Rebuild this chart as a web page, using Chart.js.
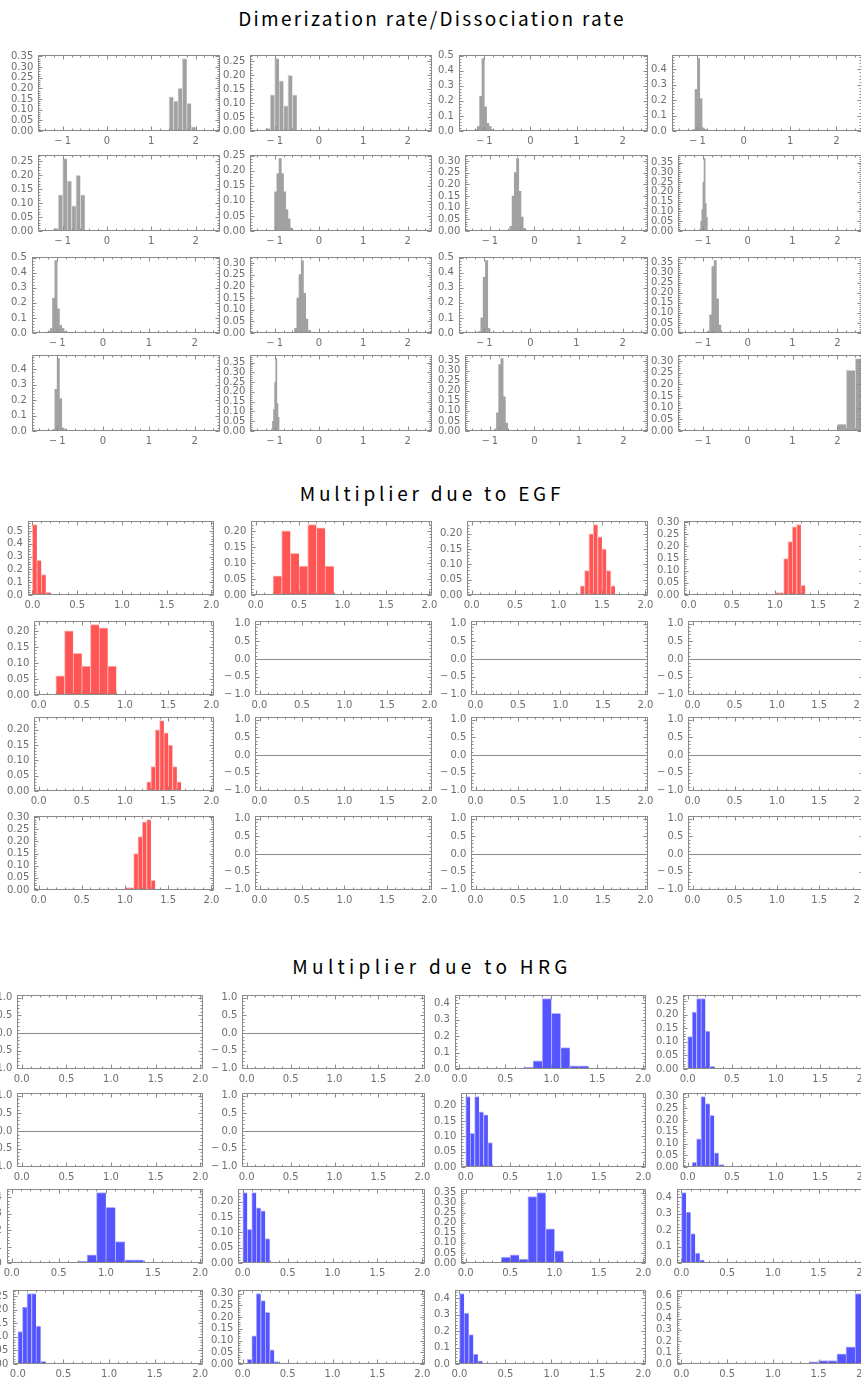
<!DOCTYPE html>
<html>
<head>
<meta charset="utf-8">
<script src="https://cdn.jsdelivr.net/npm/chart.js@4.4.1/dist/chart.umd.min.js"></script>
<style>
  body { margin: 0; background: #fff; }
  #page { position: relative; width: 861px; height: 1380px; overflow: hidden; background: #fff; }
  .title { position: absolute; left: 0; width: 864px; text-align: center; font-family: "Noto Sans CJK JP", "DejaVu Sans", sans-serif; font-size: 19px; color: #000; line-height: 24px; }
  canvas { position: absolute; }
</style>
</head>
<body>
<div id="page">
  <div class="title" style="top:6px; letter-spacing:2.3px">Dimerization rate/Dissociation rate</div>
  <div class="title" style="top:481px; letter-spacing:3.8px">Multiplier due to EGF</div>
  <div class="title" style="top:954px; letter-spacing:4.3px">Multiplier due to HRG</div>
</div>
<script>
// Histograms: bin centres (X) and fractions (Y)
// Dimerization rate / Dissociation rate
const dim11X = [1.45, 1.55, 1.65, 1.75, 1.85, 1.95];
const dim11Y = [0.16, 0.14, 0.20, 0.34, 0.13, 0.02];
const dim12X = [-1.15, -1.05, -0.95, -0.85, -0.75, -0.65, -0.55];
const dim12Y = [0.01, 0.13, 0.26, 0.18, 0.09, 0.20, 0.13];
const dim13X = [-1.175, -1.125, -1.075, -1.025, -0.975, -0.925, -0.875, -0.825];
const dim13Y = [0.01, 0.03, 0.23, 0.48, 0.16, 0.05, 0.03, 0.01];
const dim14X = [-1.075, -1.025, -0.975, -0.925, -0.875, -0.825];
const dim14Y = [0.01, 0.27, 0.47, 0.21, 0.02, 0.01];
const dim22X = [-0.975, -0.925, -0.875, -0.825, -0.775, -0.725, -0.675, -0.625];
const dim22Y = [0.13, 0.19, 0.24, 0.19, 0.13, 0.07, 0.04, 0.01];
const dim23X = [-0.525, -0.475, -0.425, -0.375, -0.325, -0.275, -0.225];
const dim23Y = [0.02, 0.15, 0.25, 0.31, 0.17, 0.06, 0.01];
const dim24X = [-1.0625, -1.0375, -1.0125, -0.9875, -0.9625, -0.9375, -0.9125];
const dim24Y = [0.01, 0.05, 0.11, 0.25, 0.37, 0.14, 0.07];
const dim33X = [-1.1, -1.05, -1.0, -0.95, -0.9];
const dim33Y = [0.01, 0.10, 0.37, 0.48, 0.03];
const dim34X = [-0.875, -0.825, -0.775, -0.725, -0.675, -0.625];
const dim34Y = [0.01, 0.09, 0.33, 0.36, 0.17, 0.04];
const dim44X = [2.1, 2.3, 2.5];
const dim44Y = [0.03, 0.26, 0.31];

// Multiplier due to EGF
const egf11X = [0.025, 0.075, 0.125, 0.175];
const egf11Y = [0.55, 0.27, 0.16, 0.02];
const egf12X = [0.25, 0.35, 0.45, 0.55, 0.65, 0.75, 0.85];
const egf12Y = [0.06, 0.20, 0.13, 0.09, 0.22, 0.21, 0.09];
const egf13X = [1.275, 1.325, 1.375, 1.425, 1.475, 1.525, 1.575, 1.625];
const egf13Y = [0.03, 0.08, 0.20, 0.23, 0.19, 0.15, 0.08, 0.03];
const egf14X = [1.025, 1.075, 1.125, 1.175, 1.225, 1.275, 1.325];
const egf14Y = [0.01, 0.01, 0.15, 0.22, 0.28, 0.29, 0.04];

// Multiplier due to HRG
const hrg13X = [0.75, 0.85, 0.95, 1.05, 1.15, 1.25, 1.35];
const hrg13Y = [0.01, 0.05, 0.43, 0.34, 0.13, 0.02, 0.02];
const hrg14X = [0.025, 0.075, 0.125, 0.175, 0.225, 0.275];
const hrg14Y = [0.12, 0.21, 0.26, 0.26, 0.14, 0.01];
const hrg23X = [0.025, 0.075, 0.125, 0.175, 0.225, 0.275];
const hrg23Y = [0.23, 0.11, 0.23, 0.18, 0.17, 0.08];
const hrg24X = [0.075, 0.125, 0.175, 0.225, 0.275, 0.325, 0.375];
const hrg24Y = [0.02, 0.12, 0.30, 0.27, 0.22, 0.06, 0.01];
const hrg33X = [0.45, 0.55, 0.65, 0.75, 0.85, 0.95, 1.05];
const hrg33Y = [0.03, 0.04, 0.02, 0.33, 0.35, 0.17, 0.06];
const hrg34X = [0.025, 0.075, 0.125, 0.175, 0.225];
const hrg34Y = [0.43, 0.31, 0.18, 0.06, 0.02];
const hrg44X = [1.45, 1.55, 1.65, 1.75, 1.85, 1.95];
const hrg44Y = [0.02, 0.03, 0.03, 0.09, 0.15, 0.62];

// x tick labels
const dimTicks = [-1, 0, 1, 2];
const multTicks = [0, 0.5, 1, 1.5, 2];
const emptyTicks = [-1, -0.5, 0, 0.5, 1];

// 4x4 grids (symmetric), null = empty panel
const dimGrid = [
    [[dim11X, dim11Y], [dim12X, dim12Y], [dim13X, dim13Y], [dim14X, dim14Y]],
    [[dim12X, dim12Y], [dim22X, dim22Y], [dim23X, dim23Y], [dim24X, dim24Y]],
    [[dim13X, dim13Y], [dim23X, dim23Y], [dim33X, dim33Y], [dim34X, dim34Y]],
    [[dim14X, dim14Y], [dim24X, dim24Y], [dim34X, dim34Y], [dim44X, dim44Y]]
];
const egfGrid = [
    [[egf11X, egf11Y], [egf12X, egf12Y], [egf13X, egf13Y], [egf14X, egf14Y]],
    [[egf12X, egf12Y], null, null, null],
    [[egf13X, egf13Y], null, null, null],
    [[egf14X, egf14Y], null, null, null]
];
const hrgGrid = [
    [null, null, [hrg13X, hrg13Y], [hrg14X, hrg14Y]],
    [null, null, [hrg23X, hrg23Y], [hrg24X, hrg24Y]],
    [[hrg13X, hrg13Y], [hrg23X, hrg23Y], [hrg33X, hrg33Y], [hrg34X, hrg34Y]],
    [[hrg14X, hrg14Y], [hrg24X, hrg24Y], [hrg34X, hrg34Y], [hrg44X, hrg44Y]]
];

const sections = [
    { grid: dimGrid, color: '#a1a1a1', edge: '#d4d4d4', xMin: -1.55, xMax: 2.55, xTicks: dimTicks, xMajor: 1, xMinor: 0.2, xDigits: 0,
      labelLeft: [11, 223, 438, 651], frameRight: [220, 432, 648, 862], frameTop: [55, 155, 257, 355], frameH: 76 },
    { grid: egfGrid, color: '#ff5555', edge: '#ffb4b4', xMin: -0.05, xMax: 2.03, xTicks: multTicks, xMajor: 0.5, xMinor: 0.1, xDigits: 1,
      labelLeft: [7, 224, 440, 657], frameRight: [214, 432, 648, 864], frameTop: [521, 621, 717, 816], frameH: 74 },
    { grid: hrgGrid, color: '#5555ff', edge: '#b4b4ff', xMin: -0.05, xMax: 2.03, xTicks: multTicks, xMajor: 0.5, xMinor: 0.1, xDigits: 1,
      labelLeft: [-14, 211, 434, 656], frameRight: [203, 425, 646, 867], frameTop: [995, 1093, 1189, 1290], frameH: 74 }
];

const PAD = 5;        // ticks.padding of y axis (applied on both sides of labels)
const PAD_TOP = 7;
const PAD_RIGHT = 10;
const X_AXIS_H = 20;
const tickFont = { family: 'DejaVu Sans', size: 10 };
const tickColor = '#6e6e6e';
const frameColor = '#8a8a8a';

function fmt(v, digits) {
    const s = Math.abs(v).toFixed(digits);
    return v < -1e-9 ? '\u2212\u2009' + s : s;
}

function steps(min, max, step) {
    const out = [];
    for (let k = Math.ceil(min / step - 1e-9); k * step <= max + 1e-9; k++) out.push(+(k * step).toFixed(6));
    return out;
}

function isMajor(v, major) {
    return Math.abs(v / major - Math.round(v / major)) < 1e-6;
}

// Mathematica-like frame with inward ticks on all four sides
const framePlugin = {
    id: 'frame',
    afterDatasetsDraw(chart, args, opts) {
        const { ctx, chartArea: a } = chart;
        const xs = chart.scales.x, ys = chart.scales.y;
        const l = Math.round(a.left) + 0.5, r = Math.round(a.right) - 0.5;
        const t = Math.round(a.top) + 0.5, b = Math.round(a.bottom) - 0.5;
        ctx.save();
        ctx.strokeStyle = frameColor;
        ctx.lineWidth = 1;
        ctx.beginPath();
        steps(xs.min, xs.max, opts.xMinor).forEach(v => {
            const px = Math.round(xs.getPixelForValue(v)) + 0.5;
            const len = isMajor(v, opts.xMajor) ? 4 : 2;
            ctx.moveTo(px, b); ctx.lineTo(px, b - len);
            ctx.moveTo(px, t); ctx.lineTo(px, t + len);
        });
        steps(ys.min, ys.max, opts.yMinor).forEach(v => {
            const py = Math.round(ys.getPixelForValue(v)) + 0.5;
            const len = isMajor(v, opts.yMajor) ? 4 : 2;
            ctx.moveTo(l, py); ctx.lineTo(l + len, py);
            ctx.moveTo(r, py); ctx.lineTo(r - len, py);
        });
        ctx.stroke();
        ctx.strokeRect(l, t, r - l, b - t);
        ctx.restore();
    }
};

function makePanel(sec, row, col) {
    const hist = sec.grid[row][col];
    const canvas = document.createElement('canvas');
    const left = sec.labelLeft[col] - PAD;
    const top = sec.frameTop[row] - PAD_TOP;
    const width = sec.frameRight[col] - left + PAD_RIGHT;
    const height = PAD_TOP + sec.frameH + X_AXIS_H;
    canvas.width = width;
    canvas.height = height;
    canvas.style.left = left + 'px';
    canvas.style.top = top + 'px';
    document.getElementById('page').appendChild(canvas);

    let yMin, yMax, yStep, yDigits, yTicks;
    if (hist) {
        const peak = Math.max(...hist[1]);
        yMin = 0;
        yMax = peak * 1.05;
        yStep = peak >= 0.4 ? 0.1 : 0.05;
        yDigits = yStep === 0.1 ? 1 : 2;
        yTicks = steps(0, yMax, yStep);
    } else {
        yMin = -1.02;
        yMax = 1.08;
        yStep = 0.5;
        yDigits = 1;
        yTicks = emptyTicks;
    }

    const datasets = [];
    if (hist) {
        const binW = hist[0][1] - hist[0][0];
        datasets.push({
            data: hist[0].map((x, i) => ({ x: x, y: hist[1][i] })),
            backgroundColor: sec.color,
            borderColor: sec.edge,
            borderWidth: function(c) {
                const s = c.chart.scales.x;
                const px = Math.abs(s.getPixelForValue(binW) - s.getPixelForValue(0));
                return px >= 4 ? { top: 1, left: 1, right: 0, bottom: 0 } : 0;
            },
            barPercentage: 1,
            categoryPercentage: 1
        });
    }

    new Chart(canvas.getContext('2d'), {
        type: 'bar',
        data: { datasets: datasets },
        options: {
            animation: false,
            responsive: false,
            events: [],
            layout: { padding: { top: PAD_TOP, right: PAD_RIGHT, bottom: 0, left: 0 } },
            plugins: {
                legend: { display: false },
                tooltip: { enabled: false },
                frame: { xMinor: sec.xMinor, xMajor: sec.xMajor, yMinor: yStep / 5, yMajor: yStep }
            },
            scales: {
                x: {
                    type: 'linear',
                    min: sec.xMin,
                    max: sec.xMax,
                    offset: false,
                    grid: { display: false, drawTicks: false },
                    border: { display: false },
                    ticks: {
                        padding: 4,
                        maxRotation: 0,
                        autoSkip: false,
                        color: tickColor,
                        font: tickFont,
                        callback: v => fmt(v, sec.xDigits)
                    },
                    afterBuildTicks: s => { s.ticks = sec.xTicks.map(v => ({ value: v })); },
                    afterFit: s => { s.paddingLeft = 0; s.paddingRight = 0; s.height = X_AXIS_H; }
                },
                y: {
                    type: 'linear',
                    min: yMin,
                    max: yMax,
                    grid: {
                        display: !hist,
                        drawTicks: false,
                        color: c => (c.tick && c.tick.value === 0) ? frameColor : 'rgba(0,0,0,0)'
                    },
                    border: { display: false },
                    ticks: {
                        padding: PAD,
                        autoSkip: false,
                        color: tickColor,
                        font: tickFont,
                        callback: v => fmt(v, yDigits)
                    },
                    afterBuildTicks: s => { s.ticks = yTicks.map(v => ({ value: v })); },
                    afterFit: s => { s.paddingTop = 0; s.paddingBottom = 0; }
                }
            }
        },
        plugins: [framePlugin]
    });
}

sections.forEach(sec => {
    for (let r = 0; r < 4; r++) {
        for (let c = 0; c < 4; c++) {
            makePanel(sec, r, c);
        }
    }
});
</script>
</body>
</html>
